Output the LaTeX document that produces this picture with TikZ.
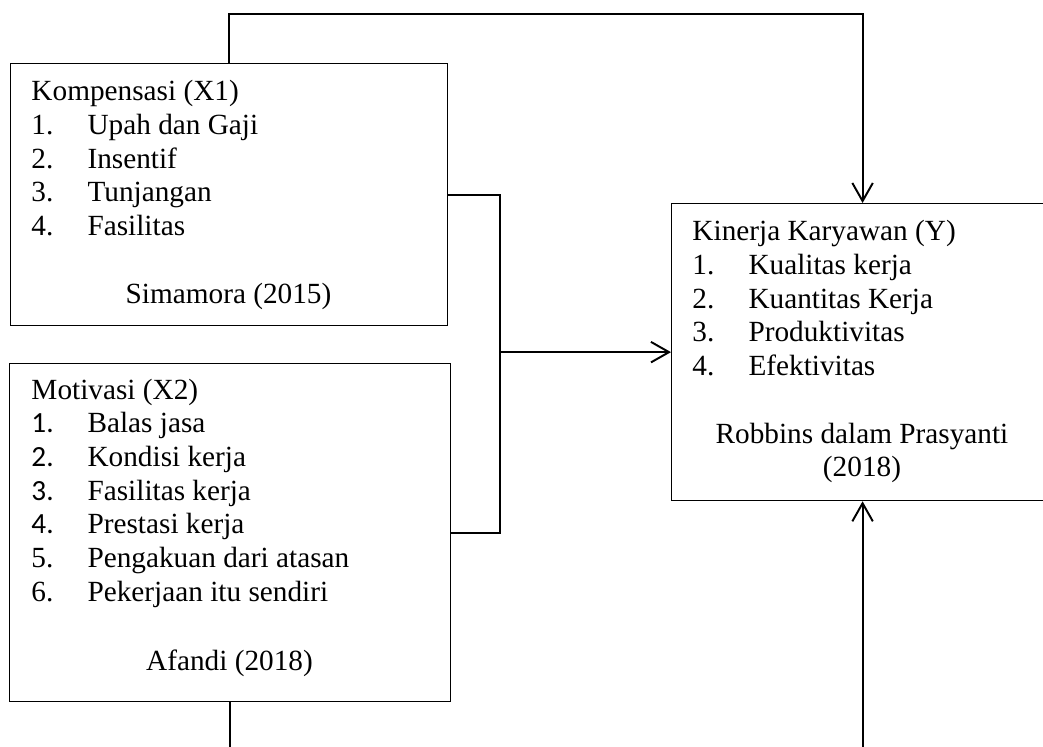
\documentclass[tikz,border=0pt]{standalone}
\usepackage{fontspec}
\setmainfont{Liberation Serif}
\newfontfamily\calibrinum{Carlito}
\usetikzlibrary{arrows.meta}
\newcommand{\itm}[2]{\makebox[23pt][l]{#1}#2}
\begin{document}
\begin{tikzpicture}[x=0.41pt,y=-0.41pt]
	\tikzset{box/.style = {draw,line width=0.5pt,inner sep=0pt,anchor=north west}}
	\tikzset{txt/.style = {anchor=base west,inner sep=0pt,align=left,font=\fontsize{12}{13.8}\selectfont}}
	\tikzset{cite/.style = {anchor=base,inner sep=0pt,align=center,font=\fontsize{12}{13.8}\selectfont}}
	\tikzset{conn/.style = {line width=0.8pt}}
	\tikzset{arr/.style = {conn,-{Straight Barb[length=7.4pt,width=8.4pt]}}}
	\clip (0,0) rectangle (1043,747);
	\node[box,minimum width=179.2pt,minimum height=107.4pt] (x1) at (10,63) {};
	\node[box,minimum width=180.8pt,minimum height=138.6pt] (x2) at (9,363) {};
	\node[box,minimum width=156.6pt,minimum height=121.8pt] (y) at (671,203) {};
	\node[txt] (x1txt) at (31,235.6) {Kompensasi (X1)\\\itm{1.}{Upah dan Gaji}\\\itm{2.}{Insentif}\\\itm{3.}{Tunjangan}\\\itm{4.}{Fasilitas}};
	\node[cite] (x1cite) at (228.5,303) {Simamora (2015)};
	\node[txt] (x2txt) at (31,601) {Motivasi (X2)\\\itm{\calibrinum 1.}{Balas jasa}\\\itm{\calibrinum 2.}{Kondisi kerja}\\\itm{\calibrinum 3.}{Fasilitas kerja}\\\itm{\calibrinum 4.}{Prestasi kerja}\\\itm{5.}{Pengakuan dari atasan}\\\itm{6.}{Pekerjaan itu sendiri}};
	\node[cite] (x2cite) at (229.5,670) {Afandi (2018)};
	\node[txt] (ytxt) at (692,375.6) {Kinerja Karyawan (Y)\\\itm{1.}{Kualitas kerja}\\\itm{2.}{Kuantitas Kerja}\\\itm{3.}{Produktivitas}\\\itm{4.}{Efektivitas}};
	\node[cite] (ycite) at (862,476.7) {Robbins dalam Prasyanti\\(2018)};
	\coordinate (top) at (0,14);
	\coordinate (bottom) at (0,770);
	\path (y.west) -- ++(-171,0) coordinate (join);
	\draw[arr] (x1.north) -- (x1.north |- top) -| (y.north);
	\draw[conn] (x1.east) -| (join) |- (x2.east);
	\draw[arr] (join) -- (y.west);
	\draw[conn] (x2.south) -- (x2.south |- bottom);
	\draw[arr] (y.south |- bottom) -- (y.south);
\end{tikzpicture}
\end{document}
